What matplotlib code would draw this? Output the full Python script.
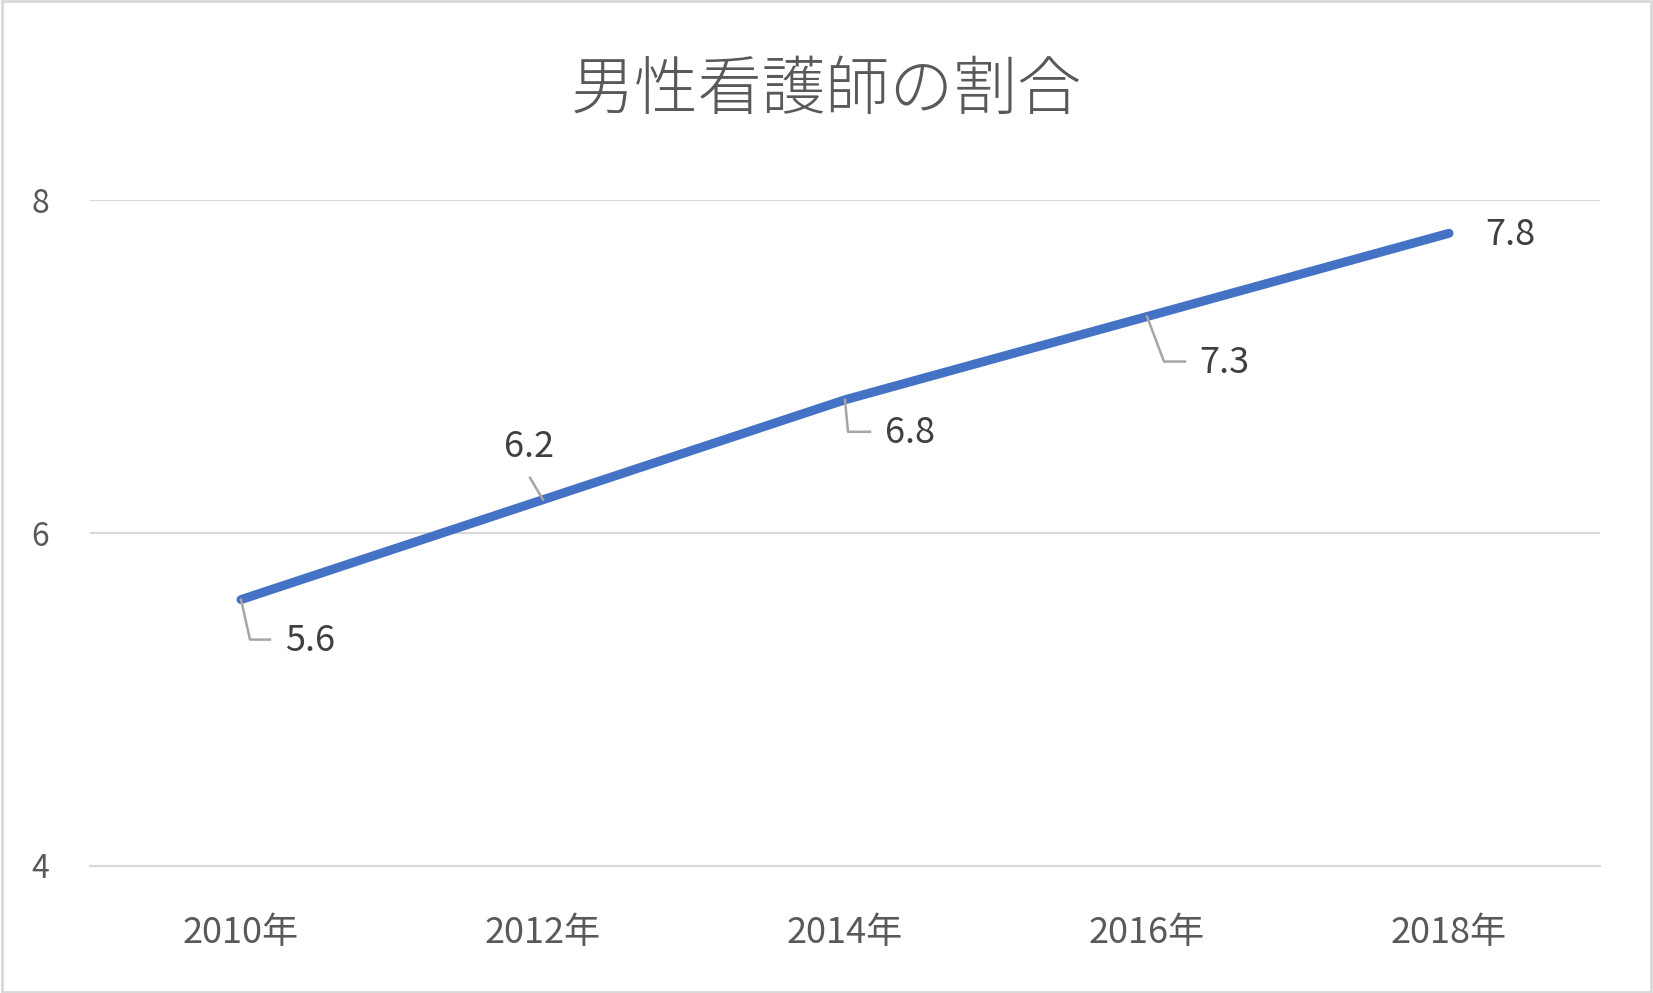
import matplotlib
matplotlib.use("Agg")
import matplotlib.pyplot as plt
from matplotlib.lines import Line2D
from matplotlib.patches import Rectangle

plt.rcParams['font.family'] = ['Noto Sans CJK JP', 'DejaVu Sans']

title = "男性看護師の割合"
categories = ["2010年", "2012年", "2014年", "2016年", "2018年"]
values = [5.6, 6.2, 6.8, 7.3, 7.8]
yticks = [4, 6, 8]

# label placement (pixel offsets from the point): leader vertices and text centre
leaders = [[(0, 0), (9, -40), (29, -40)],
           [(0, 0), (-13, 22)],
           [(0, 0), (3, -32), (25, -32)],
           [(0, 0), (17, -45), (38, -45)],
           None]
label_off = [(69, -41), (-14, 53), (65, -33), (77, -46), (61, -2)]

W, H = 1653, 993
fig = plt.figure(figsize=(W / 100, H / 100), dpi=100)
fig.patch.set_facecolor('white')
fig.patches.append(Rectangle((0.001, 0.001), 0.998, 0.998, transform=fig.transFigure,
                             fill=False, edgecolor='#D9D9D9', linewidth=2))

ax = fig.add_axes([90 / W, 1 - 866 / H, (1600 - 90) / W, (866 - 200) / H])
x = list(range(len(categories)))
ax.plot(x, values, color='#4472C4', linewidth=6.5, solid_capstyle='round', zorder=3)

ax.set_xlim(-0.5, len(categories) - 0.5)
ax.set_ylim(4, 8)
ax.set_yticks(yticks)
ax.set_xticks(x)
ax.set_xticklabels(categories)
ax.grid(axis='y', color='#D9D9D9', linewidth=1.5)
ax.set_axisbelow(True)
for s in ['top', 'right', 'left']:
    ax.spines[s].set_visible(False)
ax.spines['bottom'].set_color('#D9D9D9')
ax.spines['bottom'].set_linewidth(1.5)
ax.tick_params(axis='both', length=0, colors='#595959')
ax.tick_params(axis='x', labelsize=26, pad=35)
ax.tick_params(axis='y', labelsize=23, pad=36)
for t in ax.get_yticklabels():
    t.set_horizontalalignment('center')

fig.text(826 / W, 1 - 91 / H, title, ha='center', va='center', fontsize=46,
         color='#595959', fontweight='light')

fig.canvas.draw()
for i, v in enumerate(values):
    px, py = ax.transData.transform((i, v))
    if leaders[i] is not None:
        xs = [px + dx for dx, dy in leaders[i]]
        ys = [py + dy for dx, dy in leaders[i]]
        fig.add_artist(Line2D(xs, ys, transform=None, color='#A6A6A6', linewidth=1.8, zorder=4))
    dx, dy = label_off[i]
    fig.text((px + dx) / W, (py + dy) / H, f"{v:.1f}", ha='center', va='center',
             fontsize=26, color='#404040')

fig.savefig("out.png", dpi=100)
